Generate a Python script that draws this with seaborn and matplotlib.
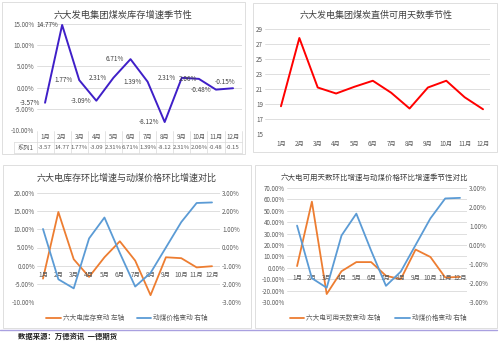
import matplotlib
matplotlib.use("Agg")
import matplotlib.pyplot as plt
import seaborn as sns
import numpy as np
import pandas as pd
from matplotlib.patches import Rectangle
from matplotlib.lines import Line2D

sns.set_theme(style="white")
plt.rcParams['font.family'] = ['Noto Sans CJK SC', 'DejaVu Sans']
plt.rcParams['axes.unicode_minus'] = False

months = ["1月", "2月", "3月", "4月", "5月", "6月", "7月", "8月", "9月", "10月", "11月", "12月"]
stock_growth = [-3.57, 14.77, 1.77, -3.09, 2.31, 6.71, 1.39, -8.12, 2.31, 2.06, -0.48, -0.15]
days_supply = [18.7, 27.8, 21.2, 20.4, 21.3, 22.1, 20.5, 18.4, 21.2, 22.1, 19.9, 18.3]
coal_price_change = [1.02, -1.75, -2.25, 0.5, 1.65, -0.3, -2.15, -1.4, 0.0, 1.4, 2.45, 2.48]
days_growth = [1.5, 58.0, -23.0, -3.0, 5.0, 5.0, -7.0, -10.0, 16.0, 9.5, -8.5, -8.0]

titles = ["六大发电集团煤炭库存增速季节性", "六大发电集团煤炭直供可用天数季节性",
          "六大电库存环比增速与动煤价格环比增速对比", "六大电可用天数环比增速与动煤价格环比增速季节性对比"]
legend3 = ["六大电库存变动 左轴", "动煤价格变动 右轴"]
legend4 = ["六大电可用天数变动 左轴", "动煤价格变动 右轴"]
source = "数据来源：万德资讯  一德期货"

W, H = 500, 341
fig = plt.figure(figsize=(W / 100, H / 100), dpi=100)

def box(x0, y0, x1, y1):
    return [x0 / W, 1 - y1 / H, (x1 - x0) / W, (y1 - y0) / H]

def fx(x):
    return x / W

def fy(y):
    return 1 - y / H

# panel borders
for (x0, y0, x1, y1) in [(2, 2, 245, 154), (253, 3, 497, 152), (3, 165, 251, 328), (255, 165, 497, 328)]:
    fig.patches.append(Rectangle((fx(x0), fy(y1)), (x1 - x0) / W, (y1 - y0) / H,
                                 transform=fig.transFigure, fill=False, edgecolor="#D9D9D9", lw=0.6))

fig.lines.append(Line2D([0, 497 / W], [fy(330), fy(330)], transform=fig.transFigure, color="#A9A0E0", lw=1.0))
fig.text(fx(18), fy(336), source, fontsize=5.3, fontweight="bold", color="#222222", va="center", ha="left")

grid_c = "#D9D9D9"
tick_c = "#595959"
x = np.arange(12)
df = pd.DataFrame({"x": x, "month": months, "stock": stock_growth, "days": days_supply,
                   "price": coal_price_change, "dgrowth": days_growth})

def clean(ax):
    for s in ax.spines.values():
        s.set_visible(False)
    ax.tick_params(length=0, pad=1.5, labelsize=4.5, labelcolor=tick_c)
    ax.set_xlabel("")
    ax.set_ylabel("")

# ---------- Panel 1 ----------
ax1 = fig.add_axes(box(36.5, 24, 241.6, 130))
sns.lineplot(data=df, x="x", y="stock", ax=ax1, color="#3F1FC8", lw=1.4)
ax1.set_xlim(-0.5, 11.5)
ax1.set_ylim(-10, 15)
ax1.set_yticks(np.arange(-10, 16, 5))
ax1.set_yticklabels([f"{v:.2f}%" for v in np.arange(-10, 16, 5)])
ax1.set_xticks([])
ax1.grid(axis="y", color=grid_c, lw=0.6)
clean(ax1)
for i, v in enumerate(stock_growth):
    off = (-11, 0)
    if i == 9:
        off = (-8, 0)
    if i == 11:
        off = (-6, 4.5)
    ax1.annotate(f"{v:.2f}%", (i, v), xytext=off, textcoords="offset points",
                 ha="center", va="center", fontsize=4.6, color="#404040")
fig.text(fx(123), fy(15), titles[0], fontsize=6.7, ha="center", va="center", color="#404040")

# table
axt = fig.add_axes(box(36.5, 131, 241.6, 153))
axt.set_xlim(-0.5, 11.5)
axt.set_ylim(0, 2)
axt.axis("off")
for k in range(13):
    axt.plot([k - 0.5, k - 0.5], [0, 2], color=grid_c, lw=0.5, clip_on=False)
axt.plot([-0.5, 11.5], [1, 1], color=grid_c, lw=0.5, clip_on=False)
axt.plot([-1.8, 11.5], [0, 0], color=grid_c, lw=0.5, clip_on=False)
axt.plot([-1.8, -1.8], [0, 1], color=grid_c, lw=0.5, clip_on=False)
axt.plot([-1.8, -0.5], [1, 1], color=grid_c, lw=0.5, clip_on=False)
for i, (m, v) in enumerate(zip(months, stock_growth)):
    axt.text(i, 1.5, m, ha="center", va="center", fontsize=4.5, color=tick_c)
    axt.text(i, 0.5, f"{v:.2f}%"[:5], ha="center", va="center", fontsize=4.3, color=tick_c)
axt.text(-1.15, 0.5, "系列1", ha="center", va="center", fontsize=4.5, color=tick_c)

# ---------- Panel 2 ----------
ax2 = fig.add_axes(box(265, 29, 490, 134))
sns.lineplot(data=df, x="x", y="days", ax=ax2, color="#FF0000", lw=1.4)
ax2.set_xlim(-0.87, 11.38)
ax2.set_ylim(15, 29)
ax2.set_yticks(np.arange(15, 30, 2))
ax2.set_xticks(x)
ax2.set_xticklabels(months)
ax2.grid(axis="y", color=grid_c, lw=0.6)
clean(ax2)
ax2.tick_params(axis="x", pad=4)
fig.text(fx(376), fy(15), titles[1], fontsize=6.5, ha="center", va="center", color="#404040")

orange = "#ED7D31"
blue = "#5B9BD5"

def dual(rect, xlim, ylim, yticks, left, title, title_x, title_fs, lab_off, leg, leg_pos):
    ax = fig.add_axes(box(*rect))
    sns.lineplot(data=df, x="x", y=left, ax=ax, color=orange, lw=1.3)
    ax.set_xlim(*xlim)
    ax.set_ylim(*ylim)
    ax.set_yticks(yticks)
    ax.set_yticklabels([f"{v:.2f}%" for v in yticks])
    ax.set_xticks([])
    ax.grid(axis="y", color=grid_c, lw=0.6)
    clean(ax)
    for i, m in enumerate(months):
        ax.annotate(m, (i, 0), xytext=(0, lab_off), textcoords="offset points",
                    ha="center", va="center", fontsize=4.6, color=tick_c)
    axr = ax.twinx()
    sns.lineplot(data=df, x="x", y="price", ax=axr, color=blue, lw=1.3)
    axr.set_ylim(-3, 3)
    rt = np.arange(-3, 4, 1)
    axr.set_yticks(rt)
    axr.set_yticklabels([f"{v:.2f}%" for v in rt])
    axr.grid(False)
    clean(axr)
    fig.text(fx(title_x), fy(178), title, fontsize=title_fs, ha="center", va="center", color="#404040")
    (o0, o1, ot, b0, b1, bt) = leg_pos
    ly = fy(318)
    fig.lines.append(Line2D([fx(o0), fx(o1)], [ly, ly], transform=fig.transFigure, color=orange, lw=1.3))
    fig.text(fx(ot), ly, leg[0], fontsize=4.8, va="center", ha="left", color=tick_c)
    fig.lines.append(Line2D([fx(b0), fx(b1)], [ly, ly], transform=fig.transFigure, color=blue, lw=1.3))
    fig.text(fx(bt), ly, leg[1], fontsize=4.8, va="center", ha="left", color=tick_c)
    return ax

# ---------- Panel 3 ----------
dual((37, 193, 220, 302), (-0.39, 11.52), (-10, 20), np.arange(-10, 21, 5), "stock", titles[2],
     127, 6.5, -7, legend3, (46, 61, 63, 137, 151, 153))

# ---------- Panel 4 ----------
dual((287, 188, 467, 302), (-0.68, 11.47), (-30, 70), np.arange(-30, 71, 10), "dgrowth", titles[3],
     374, 5.4, -7, legend4, (290, 304, 306, 395, 410, 412))

fig.savefig("out.png", dpi=100, facecolor="white")
